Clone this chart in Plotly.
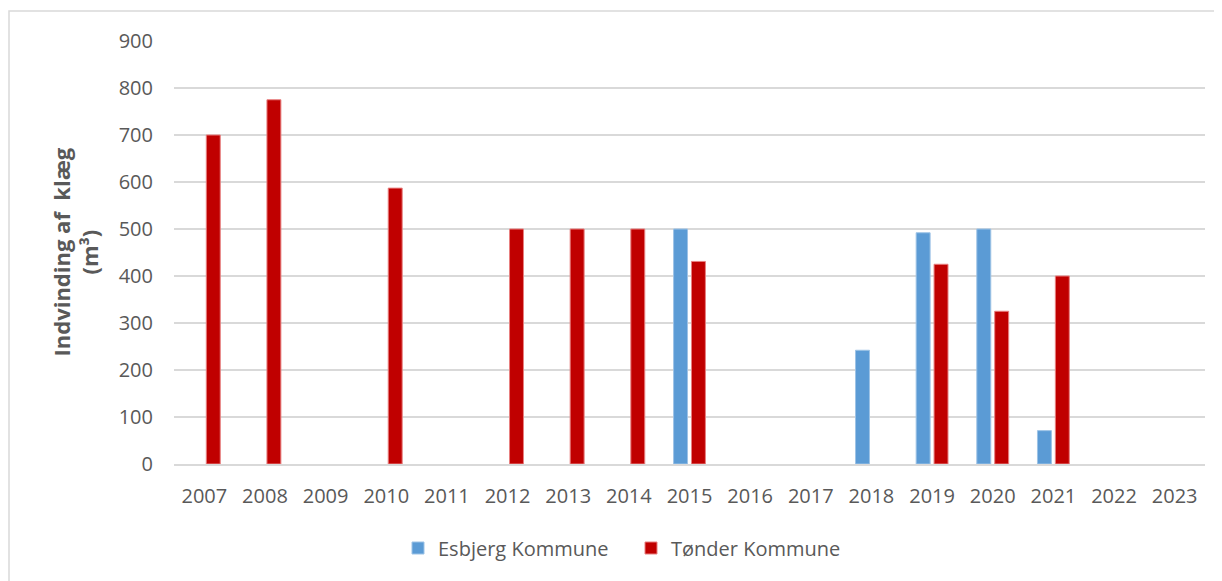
import plotly.graph_objects as go

years = [str(y) for y in range(2007, 2024)]
esbjerg = [None, None, None, None, None, None, None, None, 500, None, None, 242, 492, 500, 71, None, None]
tonder = [700, 775, None, 587, None, 500, 500, 500, 431, None, None, None, 425, 325, 400, None, None]

TXT = "#595959"
FONT = "Open Sans"

# page body has an 8px margin, so the figure is offset by 8px
W, H = 1214, 573
L, R, T, B = 166, 17, 33, 117
PW, PH = W - L - R, H - T - B

fig = go.Figure()
fig.add_trace(go.Bar(x=years, y=esbjerg, name="Esbjerg Kommune",
                     marker=dict(color="#5B9BD5", line=dict(color="#9DC3E6", width=1))))
fig.add_trace(go.Bar(x=years, y=tonder, name="Tønder Kommune",
                     marker=dict(color="#C00000", line=dict(color="#E88080", width=1))))

fig.update_layout(
    width=W, height=H,
    margin=dict(l=L, r=R, t=T, b=B),
    paper_bgcolor="white", plot_bgcolor="white",
    barmode="group", bargap=0.41, bargroupgap=0.22,
    font=dict(family=FONT, color=TXT, size=20),
    showlegend=True,
    legend=dict(orientation="h", x=(390 - L) / PW, xanchor="left",
                y=(PH - (540 - T)) / PH, yanchor="middle",
                font=dict(size=20, color=TXT), traceorder="normal",
                itemwidth=30, entrywidthmode="pixels", entrywidth=188),
    xaxis=dict(type="category", showgrid=False, showline=True, linecolor="#D9D9D9", linewidth=2,
               ticks="", tickfont=dict(size=20, color=TXT), ticklabelstandoff=13),
    yaxis=dict(range=[0, 900], dtick=100, showgrid=True, gridcolor="#D9D9D9", gridwidth=2,
               zeroline=False, showline=False, ticks="", tickfont=dict(size=20, color=TXT),
               ticklabelstandoff=20),
    shapes=[dict(type="rect", xref="paper", yref="paper",
                 x0=(1 - L) / PW, x1=1.2, y0=-0.6, y1=(PH - (3 - T)) / PH,
                 line=dict(color="#D9D9D9", width=1.5), fillcolor="rgba(0,0,0,0)", layer="below")],
    annotations=[dict(text="<b>Indvinding af  klæg<br>(m³)</b>", textangle=-90,
                      xref="paper", yref="paper", x=(67 - L) / PW, y=0.5,
                      xanchor="center", yanchor="middle", showarrow=False,
                      font=dict(size=22, color=TXT, family=FONT))],
)

fig.write_html("out.html")
